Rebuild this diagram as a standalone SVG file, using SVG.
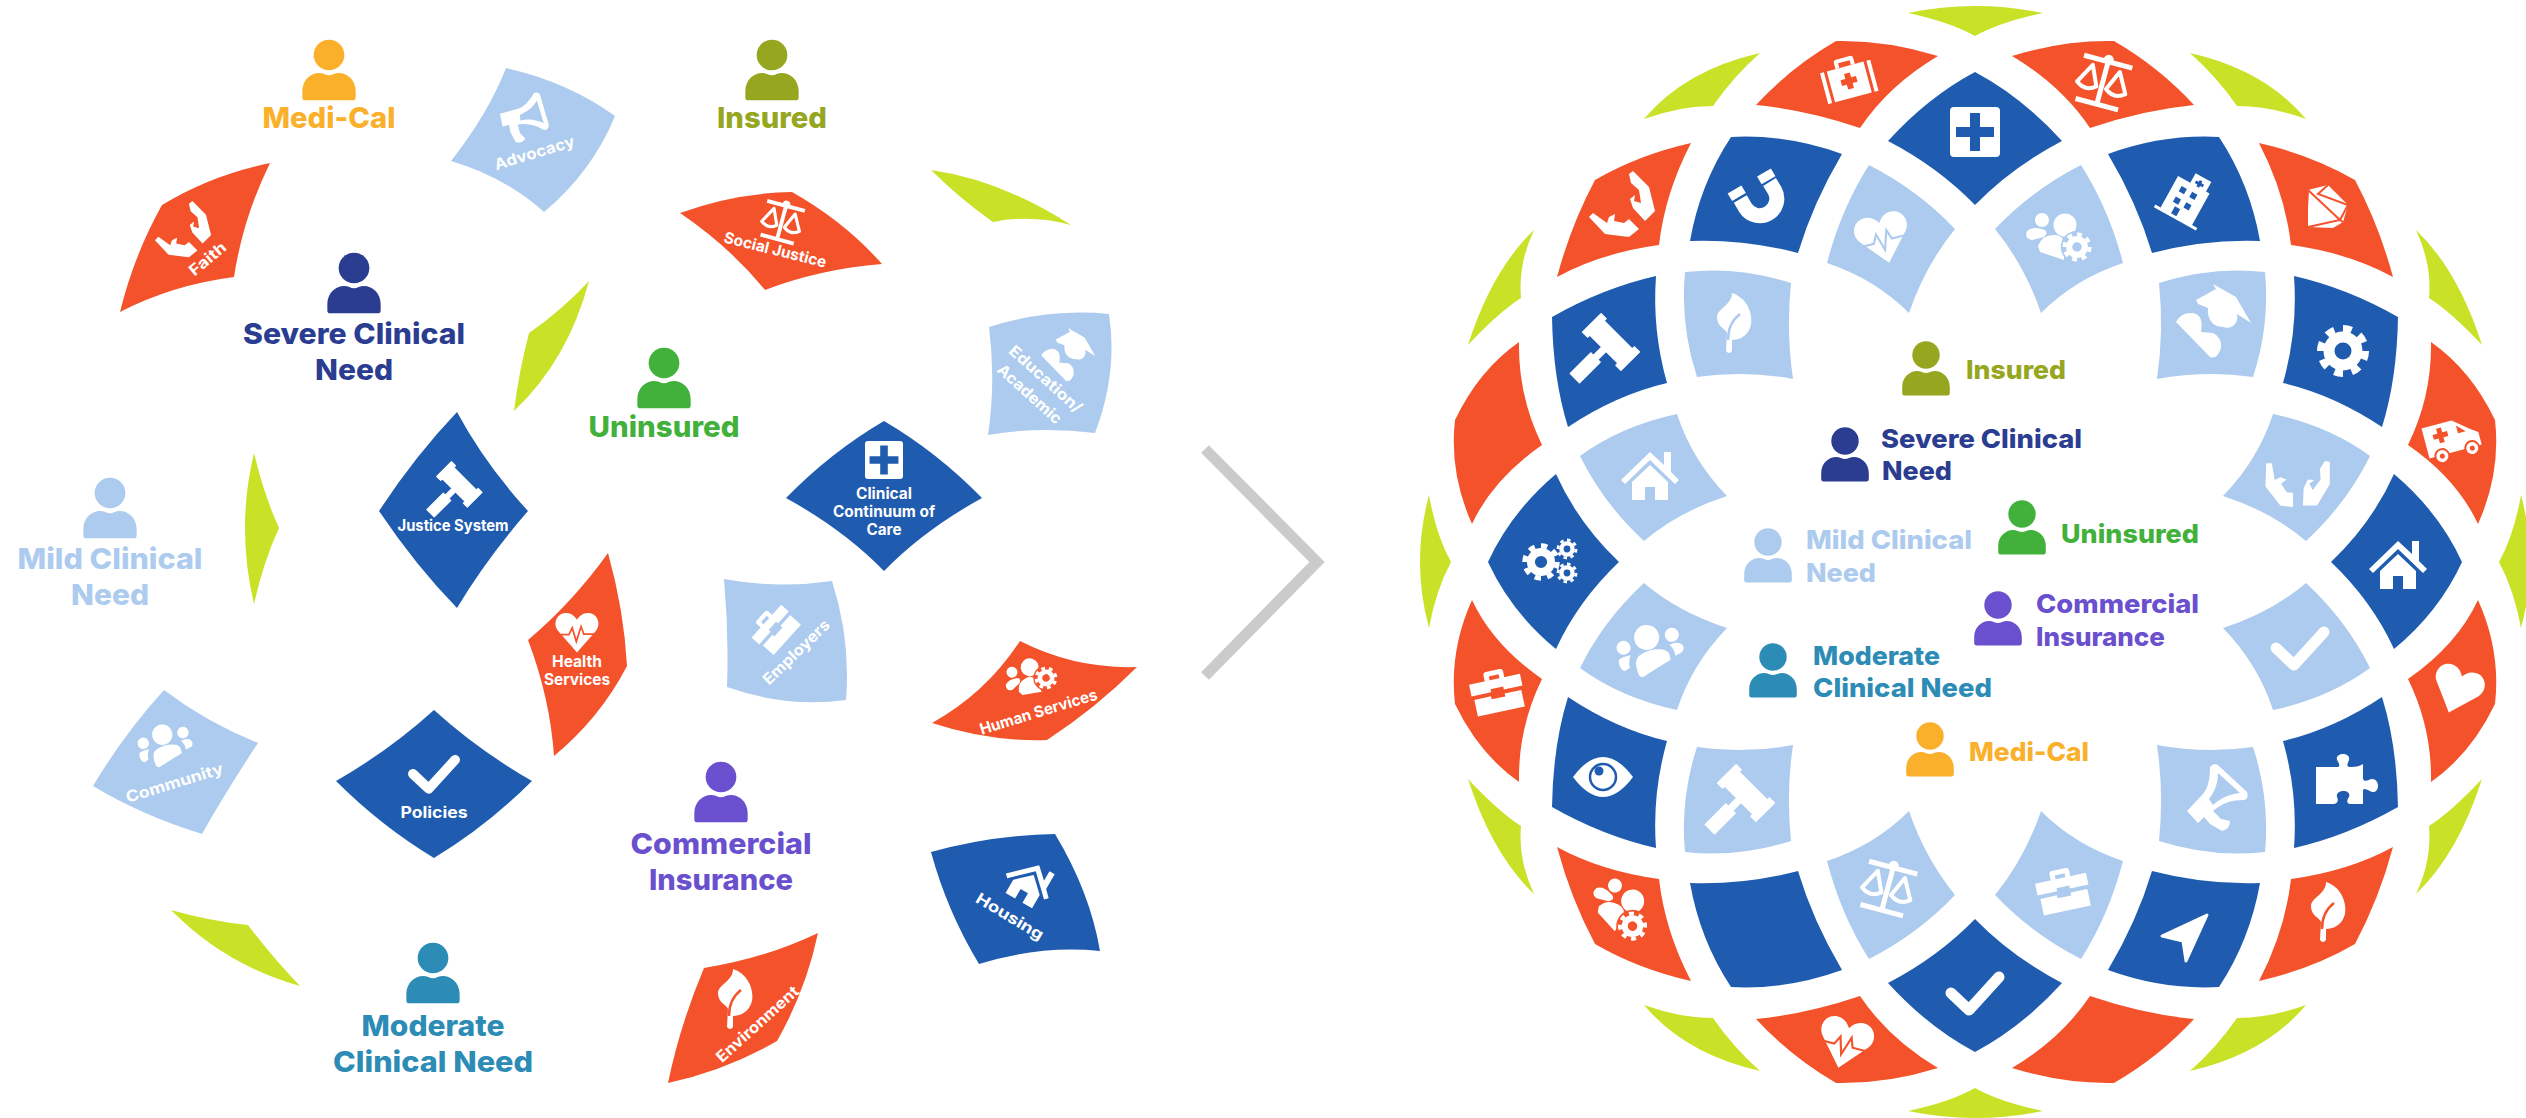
<svg xmlns="http://www.w3.org/2000/svg" width="2526" height="1118" viewBox="0 0 2526 1118">
<style>
text{font-family:"Inter","Liberation Sans",sans-serif}
.red{fill:#F4522B;color:#F4522B}.blue{fill:#1F5CAF;color:#1F5CAF}.light{fill:#ADCBEE;color:#ADCBEE}.lime{fill:#C9E227}
.lb{font-size:29px;font-weight:800}.rb{font-size:26px;font-weight:800}
.tl{font-size:15.5px;font-weight:700;fill:#fff;text-anchor:middle}
.c{text-anchor:middle}
.c1{fill:#FBB02C;color:#FBB02C}.c2{fill:#96A61E}.c3{fill:#2B3D90}.c4{fill:#42B13C}.c5{fill:#ADCBEE}.c6{fill:#6A4FCF}.c7{fill:#2D8CB5}
.ln{fill:none;stroke:#fff;stroke-linejoin:round}
.chev{fill:none;stroke:#CBCBCB;stroke-width:11}
</style>
<defs>
<g id="person"><circle r="13.7"/><path d="M-21.5,40.5Q-23.8,40.5-23.8,38V32C-23.8,22-16,16-9,16C-5,16-3,18 0,18C3,18 5,16 9,16C16,16 23.8,22 23.8,32V38Q23.8,40.5 21.5,40.5Z"/></g>
<path id="s-a" d="M1836,41Q1887,40 1938,56Q1889,85 1860,128Q1807,110 1756,105Q1791,67 1836,41Z"/>
<path id="s-b" d="M1691,143Q1638,155 1595,180Q1571,225 1557,277Q1601,253 1659,245Q1665,193 1691,143Z"/>
<path id="s-c" d="M1731,137Q1787,134 1842,154Q1813,203 1798,253Q1744,239 1690,241Q1700,184 1731,137Z"/>
<path id="s-d" d="M1869,165Q1918,190 1955,229Q1925,266 1909,313Q1875,279 1827,263Q1841,209 1869,165Z"/>
<path id="s-e" d="M1656,276Q1603,288 1552,317Q1553,379 1568,427Q1616,395 1667,383Q1652,330 1656,276Z"/>
<path id="s-f" d="M1685,272Q1738,266 1791,283Q1786,331 1793,379Q1745,370 1697,377Q1680,325 1685,272Z"/>
<path id="s-g" d="M1519,342Q1479,370 1455,420Q1449,473 1472,524Q1493,479 1542,445Q1518,396 1519,342Z"/>
<path id="s-h" d="M1677,414Q1692,460 1727,496Q1678,512 1644,541Q1603,503 1580,456Q1621,426 1677,414Z"/>
<path id="s-j" d="M1556,474Q1578,523 1619,562Q1578,601 1556,649Q1511,612 1488,562Q1511,512 1556,474Z"/>
<path id="s-k" d="M1975,72Q2022,97 2062,141Q2012,167 1975,205Q1938,167 1888,141Q1928,97 1975,72Z"/>
<path id="g-a" d="M1908,13Q1975,-1 2043,13Q2000,22 1975,36Q1950,22 1908,13Z"/>
<path id="g-b" d="M1760,53Q1685,70 1644,119Q1680,106 1713,106Q1733,77 1760,53Z"/>
<path id="g-c" d="M1534,230Q1492,270 1468,345Q1499,312 1521,298Q1518,264 1534,230Z"/>
<path id="g-d" d="M1429,495Q1411,562 1429,628Q1436,590 1451,562Q1436,535 1429,495Z"/>

<path id="i-plus" fill="#fff" fill-rule="evenodd" d="M-21,-25H21Q25,-25 25,-21V21Q25,25 21,25H-21Q-25,25-25,21V-21Q-25,-25-21,-25ZM-5,-19V-5H-19V5H-5V19H5V5H19V-5H5V-19Z"/>
<g id="i-medkit" fill="#fff"><path fill-rule="evenodd" d="M-19,-15H19V17H-19ZM-3,-8V-3H-8V3H-3V8H3V3H8V-3H3V-8Z"/><path d="M-26,-15H-22V17H-26ZM22,-15H26V17H22ZM-10,-15V-21Q-10,-24-7,-24H7Q10,-24 10,-21V-15H6V-20H-6V-15Z"/></g>
<g id="i-scales"><path class="ln" stroke-width="5" d="M-22,24H22M0,-22V24M-25,-20H25"/><circle r="5" cy="-22" fill="#fff"/><path class="ln" stroke-width="4" d="M-14,-13L-25,7Q-15,15-5,7ZM14,-13L25,7Q15,15 5,7Z"/></g>
<g id="i-hands" fill="#fff"><path d="M-33,12L-29,8L-15,18L-13,12L-7,9L-8,16L2,18L7,14L17,24L7,32L-17,29Z"/><path d="M7,-31L11,-34L27,-18L33,6L23,16L11,3L8,-6L13,-10L12,-4L19,-2L17,-15L9,-22Z"/></g>
<g id="i-gavel"><path fill="#fff" stroke="#fff" stroke-width="1.5" stroke-linejoin="round" transform="translate(8,-7) rotate(45)" d="M-27,-13H-20V-10H20V-13H27V13H20V10H3V22H6.5V51H-6.5V22H-3V10H-20V13H-27Z"/></g>
<g id="i-magnet"><path fill="none" stroke="#fff" stroke-width="15" d="M-15.7,4L-10.6,12.7A17,17 0 0 0 18.6,-4.7L13.5,-13"/><path fill="none" stroke="#fff" stroke-width="16" stroke-linejoin="round" d="M-17,2L-21.5,-5.5M12.5,-14.7L8,-22.5"/></g>
<path id="i-heart" d="M0,30L-28,-2C-36,-12-30,-28-16,-28C-8,-28-3,-23 0,-18C3,-23 8,-28 16,-28C30,-28 36,-12 28,-2Z"/>
<g id="i-hp"><use href="#i-heart" fill="#fff"/><path fill="none" stroke="currentColor" stroke-width="2.5" d="M-30,4H-12L-7,-6L-1,14L6,-8L10,3H30"/></g>
<g id="i-gear"><circle r="14" fill="none" stroke="#fff" stroke-width="11"/><circle r="22.5" fill="none" stroke="#fff" stroke-width="7" pathLength="16" stroke-dasharray="1 1"/></g>
<g id="i-pg" fill="#fff"><circle cx="-18" cy="-18" r="7"/><circle cx="5" cy="-13" r="11.5"/><path d="M-33,-7Q-28,-12-18,-9Q-10,-7-16,-1L-28,2Q-36,1-33,-7Z"/><path d="M-22,8Q-18,-3-6,-3Q4,-3 4,6V22L-20,14Z"/><g transform="translate(17,9) scale(.56)"><circle r="29" fill="currentColor"/><use href="#i-gear"/></g></g>
<g id="i-people" fill="#fff"><circle cy="-13" r="12.5"/><circle cx="-25" cy="-9" r="7"/><circle cx="25" cy="-9" r="7"/><path d="M-17,22Q-20,5-10,2Q0,-1 10,2Q20,5 17,15Q0,20-12,24Q-15,25-17,22Z"/><path d="M-33,2Q-30,-1-20,0Q-24,5-24,12L-30,14Q-35,10-33,2Z"/><path d="M20,0Q30,-2 33,4Q34,10 28,11L23,12Q24,5 20,0Z"/></g>
<g id="i-leaf"><path fill="#fff" d="M-2,-30C14,-25 19,-8 17,2C14,14 4,17-2,17V28Q-5,32-8,28L-7,10C-8,6-17,4-17,-6C-17,-14-2,-18-2,-30Z"/><path fill="none" stroke="currentColor" stroke-width="2.5" d="M-6,17Q-6,0 6,-9"/></g>
<path id="i-hosp" fill="#fff" fill-rule="evenodd" d="M-18,22V-14H-4V-25H14V-14H18V22H24V25H-24V22ZM-10,-7H-4V-1H-10ZM2,-7H8V-1H2ZM-10,5H-4V11H-10ZM2,5H8V11H2ZM3,-21V-19H0V-16H3V-14H6V-16H9V-19H6V-21ZM-6,14H0V22H-6Z"/>
<g id="i-dia"><path fill="#fff" d="M-20,-16L0,-21L20,-1L15,16L5,22L-20,21Z"/><path fill="none" stroke="currentColor" stroke-width="2" d="M-20,-16L12,14L-20,21M-20,-16L-22,21M0,-21L-10,-12L20,-1L12,14L15,16"/></g>
<path id="i-grad" fill="#fff" d="M-17,-20L3,-31L0,-36L23,-23L38,3L24,-6C26,4 18,10 10,7C-1,7-6,-2-5,-12L-15,-16ZM-37,2Q-32,-8-20,-7Q-9,-5-12,12L0,13Q9,17 8,28Q4,40-3,37Z"/>
<path id="i-house" fill="#fff" d="M-18,6L0,-11L18,6V24H5V11H-5V24H-18ZM-29,4L0,-24L14,-11V-24H21V-4L29,4L25,8L0,-16L-25,8Z"/>
<path id="i-check" fill="none" stroke="#fff" stroke-width="11" stroke-linecap="round" stroke-linejoin="round" d="M-24,1L-6,18L24,-15"/>
<path id="i-brief" fill="#fff" d="M-26,-12H26V0H7V-3H-6V0H-26ZM-24,4H-7V7H7V4H24V21H-24ZM-10,-12V-18Q-10,-21-7,-21H7Q10,-21 10,-18V-12H5V-16H-5V-12Z"/>
<g id="i-amb"><path fill="#fff" fill-rule="evenodd" d="M-27,-17H4L20,-4L27,1V14H-27ZM-18,-8H-13V-13H-8V-8H-3V-3H-8V2H-13V-3H-18ZM7,-11L15,-3H7Z"/><g fill="#fff" stroke="currentColor" stroke-width="2"><circle cx="-14" cy="15" r="7"/><circle cx="17" cy="15" r="7"/></g><circle cx="-14" cy="15" r="2.5" fill="currentColor"/><circle cx="17" cy="15" r="2.5" fill="currentColor"/></g>
<g id="i-eye"><path fill="#fff" d="M-30,0Q-15,-20 0,-20Q15,-20 30,0Q15,20 0,20Q-15,20-30,0Z"/><circle r="13" fill="none" stroke="currentColor" stroke-width="2.5"/><circle cx="-4" cy="-6" r="4.5" fill="currentColor"/></g>
<path id="i-puzzle" fill="#fff" d="M-31,-10H-10C-6,-10-8,-14-10,-17C-12,-25 4,-25 2,-17C1,-14-2,-10 4,-10Q12,-10 16,-13V2C18,6 22,2 25,2C33,2 33,16 25,15C22,14 18,10 16,13V27H4C0,27-1,24 2,20C5,12-12,12-10,20C-8,24-10,27-14,27H-31Z"/>
<path id="i-arrow" fill="#fff" stroke="#fff" stroke-width="3" stroke-linejoin="round" d="M20,-22L-25,-1L-4,4L-1,24Z"/>
<path id="i-mega" fill="#fff" fill-rule="evenodd" d="M-8,-30Q-3,-36 2,-30L29,-5Q31,2 26,3C14,3 4,6-5,14L3,22L12,24Q12,32 4,34L-8,27L-14,20L-20,26L-31,14L-15,-3C-10,-9-8,-18-8,-30ZM0,-24L22,-4C12,-3 4,0-5,8L-9,2C-3,-6 0,-14 0,-24Z"/>
</defs>

<g id="connectors"><path class="chev" d="M1205,449L1317,562L1205,676"/></g>

<g id="n-faith" class="red"><path d="M270,163Q211,175 162,205Q134,255 120,312Q172,285 234,277Q243,218 270,163Z"/><use href="#i-hands" transform="translate(183,230) scale(.85)"/><text class="tl" transform="translate(211,263) rotate(-40)" textLength="43" lengthAdjust="spacingAndGlyphs">Faith</text></g>
<g id="n-advocacy" class="light"><path d="M506,68Q568,82 615,116Q592,172 544,212Q505,177 451,161Q488,114 506,68Z"/><use href="#i-mega" transform="translate(527,117) rotate(31) scale(.8)"/><text class="tl" transform="translate(536,158) rotate(-17)" textLength="83" lengthAdjust="spacingAndGlyphs">Advocacy</text></g>
<g id="n-social" class="red"><path d="M792,192Q735,193 680,213Q730,247 765,290Q820,269 882,264Q845,222 792,192Z"/><use href="#i-scales" transform="translate(782,221) rotate(15) scale(.78)"/><text class="tl" transform="translate(774,255) rotate(14)" textLength="105" lengthAdjust="spacingAndGlyphs">Social Justice</text></g>
<g id="n-education" class="light"><path d="M989,327Q1049,308 1109,314Q1118,373 1095,433Q1041,426 988,435Q996,381 989,327Z"/><use href="#i-grad" transform="translate(1068,354) scale(.72)"/><text class="tl" transform="translate(1042,383) rotate(42)" textLength="92" lengthAdjust="spacingAndGlyphs">Education/</text><text class="tl" transform="translate(1026,398) rotate(42)" textLength="81" lengthAdjust="spacingAndGlyphs">Academic</text></g>
<g id="n-clinical" class="blue"><path d="M884,421Q937,452 982,498Q924,530 884,571Q844,530 786,498Q831,452 884,421Z"/><use href="#i-plus" transform="translate(884,460) scale(.76)"/><text class="tl" x="884" y="499" textLength="56" lengthAdjust="spacingAndGlyphs">Clinical</text><text class="tl" x="884" y="517" textLength="102" lengthAdjust="spacingAndGlyphs">Continuum of</text><text class="tl" x="884" y="535" textLength="35" lengthAdjust="spacingAndGlyphs">Care</text></g>
<g id="n-justice" class="blue"><path d="M457,412Q485,464 528,511Q487,558 457,608Q416,566 379,511Q415,456 457,412Z"/><use href="#i-gavel" transform="translate(453,490) scale(.8)"/><text class="tl" x="453" y="531" textLength="111" lengthAdjust="spacingAndGlyphs">Justice System</text></g>
<g id="n-health" class="red"><path d="M608,553Q624,610 627,666Q600,718 554,756Q550,698 528,640Q573,602 608,553Z"/><use href="#i-hp" transform="translate(577,632) scale(.68)"/><text class="tl" x="577" y="667" textLength="50" lengthAdjust="spacingAndGlyphs">Health</text><text class="tl" x="577" y="685" textLength="66" lengthAdjust="spacingAndGlyphs">Services</text></g>
<g id="n-employers" class="light"><path d="M724,579Q778,589 832,581Q851,640 846,700Q786,708 727,687Q729,633 724,579Z"/><use href="#i-brief" transform="translate(774,628) rotate(-48) scale(.85)"/><text class="tl" transform="translate(800,656) rotate(-44)" textLength="86" lengthAdjust="spacingAndGlyphs">Employers</text></g>
<g id="n-human" class="red"><path d="M1020,641Q1075,669 1137,667Q1096,708 1047,740Q990,742 932,723Q986,693 1020,641Z"/><use href="#i-pg" transform="translate(1031,678) rotate(-28) scale(.78)"/><text class="tl" transform="translate(1040,717) rotate(-17)" textLength="122" lengthAdjust="spacingAndGlyphs">Human Services</text></g>
<g id="n-community" class="light"><path d="M164,690Q206,722 258,743Q225,793 202,834Q141,815 93,786Q124,734 164,690Z"/><use href="#i-people" transform="translate(165,745) rotate(-15) scale(.82)"/><text class="tl" transform="translate(176,788) rotate(-17)" textLength="101" lengthAdjust="spacingAndGlyphs">Community</text></g>
<g id="n-policies" class="blue"><path d="M434,710Q478,750 532,781Q487,826 434,858Q381,826 336,781Q390,750 434,710Z"/><use href="#i-check" transform="translate(434,773) scale(.88)"/><text class="tl" x="434" y="818" textLength="67" lengthAdjust="spacingAndGlyphs">Policies</text></g>
<g id="n-housing" class="blue"><path d="M931,852Q993,835 1055,834Q1090,892 1100,951Q1040,945 979,964Q947,911 931,852Z"/><use href="#i-house" transform="translate(1029,883) rotate(30) scale(.85)"/><text class="tl" transform="translate(1007,921) rotate(31)" textLength="76" lengthAdjust="spacingAndGlyphs">Housing</text></g>
<g id="n-environment" class="red"><path d="M818,933Q766,958 704,968Q680,1025 668,1083Q727,1070 777,1041Q806,990 818,933Z"/><use href="#i-leaf" transform="translate(735,999)"/><text class="tl" transform="translate(761,1028) rotate(-42)" textLength="105" lengthAdjust="spacingAndGlyphs">Environment</text></g>
<g id="lime-left" class="lime"><path d="M931,170Q1001,180 1071,225Q1032,214 993,222Q959,198 931,170Z"/><path d="M589,281Q568,360 514,411Q519,371 529,333Q561,311 589,281Z"/><path d="M254,453Q236,528 254,604Q264,560 279,528Q264,495 254,453Z"/><path d="M171,910Q225,965 300,986Q272,957 248,925Q209,921 171,910Z"/></g>

<g id="p-medi" class="c1"><use href="#person" transform="translate(329,55) scale(1.12)"/><text class="lb c" x="329" y="128" textLength="133" lengthAdjust="spacingAndGlyphs">Medi-Cal</text></g>
<g id="p-insured" class="c2"><use href="#person" transform="translate(772,55) scale(1.12)"/><text class="lb c" x="772" y="128" textLength="110" lengthAdjust="spacingAndGlyphs">Insured</text></g>
<g id="p-severe" class="c3"><use href="#person" transform="translate(354,268) scale(1.12)"/><text class="lb c" x="354" y="344" textLength="222" lengthAdjust="spacingAndGlyphs">Severe Clinical</text><text class="lb c" x="354" y="380" textLength="78" lengthAdjust="spacingAndGlyphs">Need</text></g>
<g id="p-uninsured" class="c4"><use href="#person" transform="translate(664,363) scale(1.12)"/><text class="lb c" x="664" y="437" textLength="151" lengthAdjust="spacingAndGlyphs">Uninsured</text></g>
<g id="p-mild" class="c5"><use href="#person" transform="translate(110,493) scale(1.12)"/><text class="lb c" x="110" y="569" textLength="185" lengthAdjust="spacingAndGlyphs">Mild Clinical</text><text class="lb c" x="110" y="605" textLength="78" lengthAdjust="spacingAndGlyphs">Need</text></g>
<g id="p-commercial" class="c6"><use href="#person" transform="translate(721,777) scale(1.12)"/><text class="lb c" x="721" y="854" textLength="181" lengthAdjust="spacingAndGlyphs">Commercial</text><text class="lb c" x="721" y="890" textLength="144" lengthAdjust="spacingAndGlyphs">Insurance</text></g>
<g id="p-moderate" class="c7"><use href="#person" transform="translate(433,958) scale(1.12)"/><text class="lb c" x="433" y="1036" textLength="143" lengthAdjust="spacingAndGlyphs">Moderate</text><text class="lb c" x="433" y="1072" textLength="200" lengthAdjust="spacingAndGlyphs">Clinical Need</text></g>

<g id="sphere-lime" class="lime"><use href="#g-a"/><use href="#g-a" transform="matrix(1 0 0 -1 0 1124)"/><use href="#g-b"/><use href="#g-b" transform="matrix(-1 0 0 1 3950 0)"/><use href="#g-b" transform="matrix(1 0 0 -1 0 1124)"/><use href="#g-b" transform="matrix(-1 0 0 -1 3950 1124)"/><use href="#g-c"/><use href="#g-c" transform="matrix(-1 0 0 1 3950 0)"/><use href="#g-c" transform="matrix(1 0 0 -1 0 1124)"/><use href="#g-c" transform="matrix(-1 0 0 -1 3950 1124)"/><use href="#g-d"/><use href="#g-d" transform="matrix(-1 0 0 1 3950 0)"/></g>

<g id="t-medkit" class="red"><use href="#s-a"/><use href="#i-medkit" transform="translate(1849,81) rotate(-15)"/></g>
<g id="t-scales" class="red"><use href="#s-a" transform="matrix(-1 0 0 1 3950 0)"/><use href="#i-scales" transform="translate(2103,81) rotate(15)"/></g>
<g id="t-heartred" class="red"><use href="#s-a" transform="matrix(1 0 0 -1 0 1124)"/><use href="#i-hp" transform="translate(1845,1043) rotate(15) scale(.85)"/></g>
<g id="t-blankred" class="red"><use href="#s-a" transform="matrix(-1 0 0 -1 3950 1124)"/></g>
<g id="t-hands" class="red"><use href="#s-b"/><use href="#i-hands" transform="translate(1622,205)"/></g>
<g id="t-diamond" class="red"><use href="#s-b" transform="matrix(-1 0 0 1 3950 0)"/><use href="#i-dia" transform="translate(2328,206)"/></g>
<g id="t-pgred" class="red"><use href="#s-b" transform="matrix(1 0 0 -1 0 1124)"/><use href="#i-pg" transform="translate(1622,910) rotate(29)"/></g>
<g id="t-leafred" class="red"><use href="#s-b" transform="matrix(-1 0 0 -1 3950 1124)"/><use href="#i-leaf" transform="translate(2328,912)"/></g>
<g id="t-magnet" class="blue"><use href="#s-c"/><use href="#i-magnet" transform="translate(1756,195)"/></g>
<g id="t-hospital" class="blue"><use href="#s-c" transform="matrix(-1 0 0 1 3950 0)"/><use href="#i-hosp" transform="translate(2187,197) rotate(29)"/></g>
<g id="t-blankblue" class="blue"><use href="#s-c" transform="matrix(1 0 0 -1 0 1124)"/></g>
<g id="t-arrow" class="blue"><use href="#s-c" transform="matrix(-1 0 0 -1 3950 1124)"/><use href="#i-arrow" transform="translate(2187,937)"/></g>
<g id="t-heartlight" class="light"><use href="#s-d"/><use href="#i-hp" transform="translate(1883,238) rotate(-14) scale(.85)"/></g>
<g id="t-pglight" class="light"><use href="#s-d" transform="matrix(-1 0 0 1 3950 0)"/><use href="#i-pg" transform="translate(2060,238)"/></g>
<g id="t-scaleslight" class="light"><use href="#s-d" transform="matrix(1 0 0 -1 0 1124)"/><use href="#i-scales" transform="translate(1888,887) rotate(15)"/></g>
<g id="t-brieflight" class="light"><use href="#s-d" transform="matrix(-1 0 0 -1 3950 1124)"/><use href="#i-brief" transform="translate(2063,890) rotate(-12)"/></g>
<g id="t-gavel" class="blue"><use href="#s-e"/><use href="#i-gavel" transform="translate(1603,349)"/></g>
<g id="t-gear" class="blue"><use href="#s-e" transform="matrix(-1 0 0 1 3950 0)"/><use href="#i-gear" transform="translate(2343,351)"/></g>
<g id="t-eye" class="blue"><use href="#s-e" transform="matrix(1 0 0 -1 0 1124)"/><use href="#i-eye" transform="translate(1603,777)"/></g>
<g id="t-puzzle" class="blue"><use href="#s-e" transform="matrix(-1 0 0 -1 3950 1124)"/><use href="#i-puzzle" transform="translate(2347,777)"/></g>
<g id="t-leaflight" class="light"><use href="#s-f"/><use href="#i-leaf" transform="translate(1734,323)"/></g>
<g id="t-grad" class="light"><use href="#s-f" transform="matrix(-1 0 0 1 3950 0)"/><use href="#i-grad" transform="translate(2213,320)"/></g>
<g id="t-gavellight" class="light"><use href="#s-f" transform="matrix(1 0 0 -1 0 1124)"/><use href="#i-gavel" transform="translate(1738,800)"/></g>
<g id="t-mega" class="light"><use href="#s-f" transform="matrix(-1 0 0 -1 3950 1124)"/><use href="#i-mega" transform="translate(2218,797)"/></g>
<g id="t-bigred" class="red"><use href="#s-g"/></g>
<g id="t-amb" class="red"><use href="#s-g" transform="matrix(-1 0 0 1 3950 0)"/><use href="#i-amb" transform="translate(2452,438) rotate(-15)"/></g>
<g id="t-brief" class="red"><use href="#s-g" transform="matrix(1 0 0 -1 0 1124)"/><use href="#i-brief" transform="translate(1497,691) rotate(-12)"/></g>
<g id="t-heart" class="red"><use href="#s-g" transform="matrix(-1 0 0 -1 3950 1124)"/><use href="#i-heart" fill="#fff" transform="translate(2457,690) rotate(20) scale(.8)"/></g>
<g id="t-house" class="light"><use href="#s-h"/><use href="#i-house" transform="translate(1650,476)"/></g>
<g id="t-handslight" class="light"><use href="#s-h" transform="matrix(-1 0 0 1 3950 0)"/><use href="#i-hands" transform="translate(2298,478) rotate(45)"/></g>
<g id="t-people" class="light"><use href="#s-h" transform="matrix(1 0 0 -1 0 1124)"/><use href="#i-people" transform="translate(1650,650) rotate(-15)"/></g>
<g id="t-checklight" class="light"><use href="#s-h" transform="matrix(-1 0 0 -1 3950 1124)"/><use href="#i-check" transform="translate(2300,647)"/></g>
<g id="t-gears" class="blue"><use href="#s-j"/><use href="#i-gear" transform="translate(1541,562) scale(.72)"/><use href="#i-gear" transform="translate(1567,549) scale(.4)"/><use href="#i-gear" transform="translate(1567,573) scale(.4)"/></g>
<g id="t-houseblue" class="blue"><use href="#s-j" transform="matrix(-1 0 0 1 3950 0)"/><use href="#i-house" transform="translate(2398,565)"/></g>
<g id="t-plus" class="blue"><use href="#s-k"/><use href="#i-plus" transform="translate(1975,132)"/></g>
<g id="t-check" class="blue"><use href="#s-k" transform="matrix(1 0 0 -1 0 1124)"/><use href="#i-check" transform="translate(1975,992)"/></g>

<g id="q-insured" class="c2"><use href="#person" transform="translate(1926,355)"/><text class="rb" x="1966" y="379" textLength="100" lengthAdjust="spacingAndGlyphs">Insured</text></g>
<g id="q-severe" class="c3"><use href="#person" transform="translate(1845,441)"/><text class="rb" x="1881" y="448" textLength="201" lengthAdjust="spacingAndGlyphs">Severe Clinical</text><text class="rb" x="1882" y="480" textLength="70" lengthAdjust="spacingAndGlyphs">Need</text></g>
<g id="q-uninsured" class="c4"><use href="#person" transform="translate(2022,514)"/><text class="rb" x="2061" y="543" textLength="138" lengthAdjust="spacingAndGlyphs">Uninsured</text></g>
<g id="q-mild" class="c5"><use href="#person" transform="translate(1768,542)"/><text class="rb" x="1806" y="549" textLength="166" lengthAdjust="spacingAndGlyphs">Mild Clinical</text><text class="rb" x="1806" y="582" textLength="70" lengthAdjust="spacingAndGlyphs">Need</text></g>
<g id="q-commercial" class="c6"><use href="#person" transform="translate(1998,605)"/><text class="rb" x="2036" y="613" textLength="163" lengthAdjust="spacingAndGlyphs">Commercial</text><text class="rb" x="2036" y="646" textLength="129" lengthAdjust="spacingAndGlyphs">Insurance</text></g>
<g id="q-moderate" class="c7"><use href="#person" transform="translate(1773,657)"/><text class="rb" x="1813" y="665" textLength="127" lengthAdjust="spacingAndGlyphs">Moderate</text><text class="rb" x="1813" y="697" textLength="179" lengthAdjust="spacingAndGlyphs">Clinical Need</text></g>
<g id="q-medi" class="c1"><use href="#person" transform="translate(1930,736)"/><text class="rb" x="1969" y="761" textLength="120" lengthAdjust="spacingAndGlyphs">Medi-Cal</text></g>
</svg>
